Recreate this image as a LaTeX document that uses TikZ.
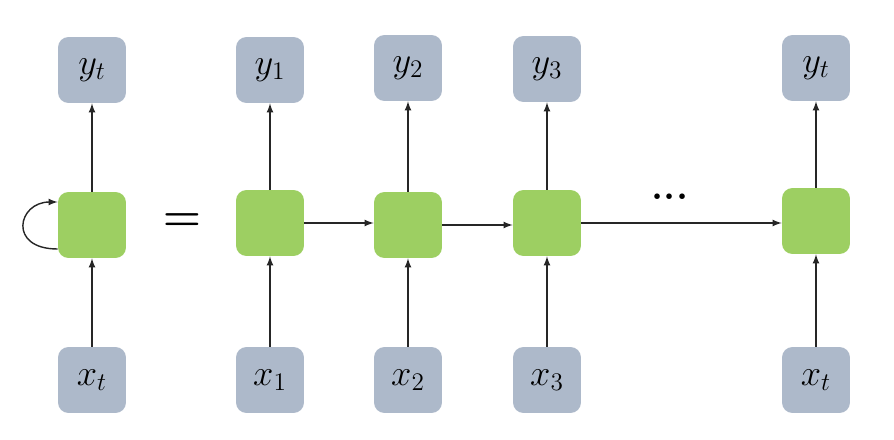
\documentclass[tikz,border=0pt]{standalone}
\usetikzlibrary{arrows}

\definecolor{cellgreen}{HTML}{9DCF62}
\definecolor{iogray}{HTML}{ADB9CA}
\definecolor{wiregray}{HTML}{262626}

\tikzset{
  cell/.style={fill=cellgreen, rounded corners=6pt, minimum width=1.36cm, minimum height=1.32cm, inner sep=0pt},
  io/.style={fill=iogray, rounded corners=6pt, minimum width=1.36cm, minimum height=1.32cm, inner sep=0pt,
    font=\fontsize{22}{26}\selectfont},
  wire/.style={draw=wiregray, line width=0.8pt, -latex}
}

\begin{document}
\begin{tikzpicture}[x=0.02cm, y=-0.02cm]
        
        \useasboundingbox (0,0) rectangle (894,440);
        
        % folded network
        \node[cell] (g0) at (92,225) {};
        \node[io] (y0) at (92,70) {$y_t$};
        \node[io] (x0) at (92,380) {$x_t$};
        
        \node[font=\fontsize{24}{28}\selectfont\boldmath] (eq) at (182,222) {$=$};
        
        % unfolded network
        \node[cell] (g1) at (270,223) {};
        \node[cell] (g2) at (408,225) {};
        \node[cell] (g3) at (547,223) {};
        \node[cell] (g4) at (816,221) {};
        
        \node[io] (y1) at (270,70) {$y_1$};
        \node[io] (y2) at (408,68) {$y_2$};
        \node[io] (y3) at (547,69) {$y_3$};
        \node[io] (y4) at (816,68) {$y_t$};
        
        \node[io] (x1) at (270,380) {$x_1$};
        \node[io] (x2) at (408,380) {$x_2$};
        \node[io] (x3) at (547,380) {$x_3$};
        \node[io] (x4) at (816,380) {$x_t$};
        
        \node[font=\fontsize{22}{26}\selectfont\bfseries, inner sep=0pt] (dots) at (670,197) {...};
        
        % connectors
        \draw[wire] (x0) -- (g0);
        \draw[wire] (g0) -- (y0);
        \draw[wire] ([yshift=-0.48cm]g0.west) .. controls +(-50,0) and +(-40,0) .. ([yshift=0.46cm]g0.west);
        
        \draw[wire] (x1) -- (g1);
        \draw[wire] (g1) -- (y1);
        \draw[wire] (x2) -- (g2);
        \draw[wire] (g2) -- (y2);
        \draw[wire] (x3) -- (g3);
        \draw[wire] (g3) -- (y3);
        \draw[wire] (x4) -- (g4);
        \draw[wire] (g4) -- (y4);
        
        \draw[wire] (g1.east) -- (g2.west |- g1.east);
        \draw[wire] (g2.east) -- (g3.west |- g2.east);
        \draw[wire] (g3.east) -- (g4.west |- g3.east);
        
        \end{tikzpicture}
\end{document}
